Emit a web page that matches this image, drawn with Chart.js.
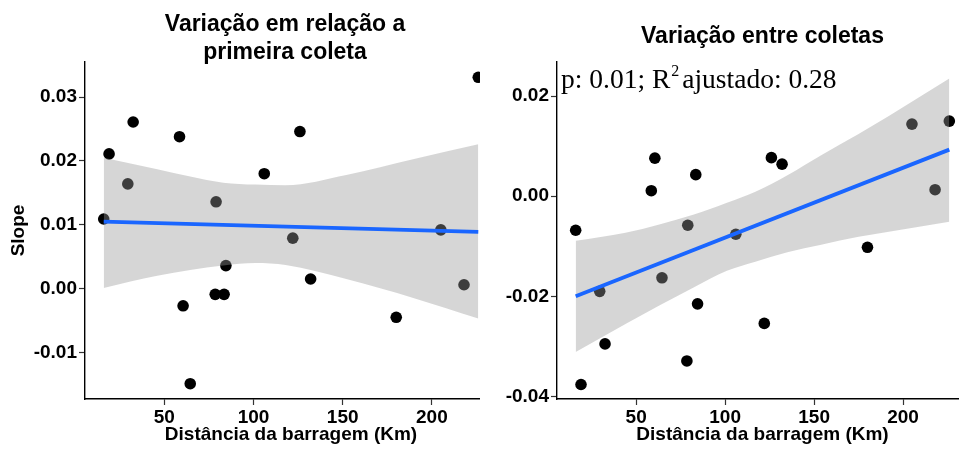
<!DOCTYPE html>
<html>
<head>
<meta charset="utf-8">
<script src="https://cdn.jsdelivr.net/npm/chart.js@4.4.1/dist/chart.umd.min.js"></script>
<style>
  html, body { margin: 0; padding: 0; background: #fff; }
  body { width: 959px; height: 449px; position: relative; overflow: hidden; }
  .panel { position: absolute; top: 0; height: 449px; overflow: hidden; }
  #leftPanel { left: 0; width: 480px; }
  #rightPanel { left: 480px; width: 479px; }
  canvas { display: block; }
</style>
</head>
<body>
<div class="panel" id="leftPanel"><canvas id="leftChart" width="497" height="449"></canvas></div>
<div class="panel" id="rightPanel"><canvas id="rightChart" width="488" height="449"></canvas></div>
<script>
// Distance of each sampling site from the dam (km)
const distance = [16, 19, 29.5, 32.5, 58.5, 60.5, 64.5, 78.5, 79, 83.5, 84.5, 106, 122, 126, 132, 180, 205, 218, 226];

// Slope relative to the first collection
const slopeFirst = [0.0109, 0.0211, 0.0164, 0.0261, 0.0238, -0.0027, -0.0149, -0.0009, 0.0136, -0.0009, 0.0036, 0.0180, 0.0079, 0.0246, 0.0015, -0.0045, 0.0092, 0.0006, 0.0331];

// Slope between consecutive collections
const slopeBetween = [-0.0068, -0.0376, -0.0190, -0.0295, 0.0011, 0.0076, -0.0163, -0.0329, -0.0058, 0.0043, -0.0215, -0.0076, -0.0254, 0.0077, 0.0064, -0.0102, 0.0144, 0.0013, 0.0150];

// Linear fit (endpoints) and 95% confidence band
const fitX = [16, 226];
const fitFirst = [0.0105, 0.0089];
const fitBetween = [-0.0200, 0.0093];

const bandX = [16, 46, 83, 101, 118, 152, 190, 226];
const bandFirstUpper = [0.0205, 0.0187, 0.0166, 0.0163, 0.0162, 0.0178, 0.0203, 0.0226];
const bandFirstLower = [0.0001, 0.0020, 0.0036, 0.0040, 0.0037, 0.0015, -0.0015, -0.0047];

const bandX2 = [16, 44, 82, 101, 117, 135, 154, 175, 192, 226];
const bandBetweenUpper = [-0.0089, -0.0073, -0.0037, -0.0013, 0.0009, 0.0042, 0.0082, 0.0124, 0.0160, 0.0235];
const bandBetweenLower = [-0.0311, -0.0255, -0.0183, -0.0149, -0.0131, -0.0112, -0.0097, -0.0081, -0.0071, -0.0051];

// Tick values
const xTicks = [50, 100, 150, 200];
const yTicksFirst = [-0.01, 0.00, 0.01, 0.02, 0.03];
const yTicksBetween = [-0.04, -0.02, 0.00, 0.02];

// Axis ranges
const xRange = [5.5, 236.5];
const yRangeFirst = [-0.0173, 0.0355];
const yRangeBetween = [-0.0405, 0.0268];

// Annotation of the second panel
const statsText = { before: 'p: 0.01; R', sup: '2', after: 'ajustado: 0.28', y: 0.0216 };

const SANS = '"Liberation Sans", Arial, sans-serif';
const SERIF = '"Liberation Serif", "Times New Roman", serif';
const BAND = 'rgba(153,153,153,0.4)';
const FIT = '#1a66ff';

const zip = (xs, ys) => xs.map((x, i) => ({ x: x, y: ys[i] }));

const panelText = {
  id: 'panelText',
  afterDraw(chart, args, opts) {
    const ctx = chart.ctx;
    const area = chart.chartArea;
    ctx.save();
    ctx.fillStyle = '#000';
    ctx.textAlign = 'center';
    ctx.textBaseline = 'alphabetic';
    ctx.font = 'bold 23px ' + SANS;
    const cx = (area.left + area.right) / 2 + (opts.shift || 0);
    (opts.lines || []).forEach((t, i) => ctx.fillText(t, cx, opts.baselines[i]));
    if (opts.stats) {
      const s = opts.stats;
      const y = chart.scales.y.getPixelForValue(s.y);
      let x = area.left + 4;
      ctx.textAlign = 'left';
      ctx.font = '27.5px ' + SERIF;
      ctx.fillText(s.before, x, y);
      x += ctx.measureText(s.before).width + 1;
      ctx.font = '16px ' + SERIF;
      ctx.fillText(s.sup, x, y - 12);
      x += ctx.measureText(s.sup).width + 3;
      ctx.font = '27.5px ' + SERIF;
      ctx.fillText(s.after, x, y);
    }
    ctx.restore();
  }
};

function makeChart(canvasId, cfg) {
  const tickFont = { family: SANS, size: 19, weight: 'bold' };
  return new Chart(document.getElementById(canvasId), {
    type: 'scatter',
    data: {
      datasets: [
        {
          type: 'line', data: zip(fitX, cfg.fit), borderColor: FIT, borderWidth: 3.8,
          pointRadius: 0, fill: false, order: 0
        },
        {
          type: 'line', data: zip(cfg.bandX, cfg.upper), borderWidth: 0, borderColor: 'rgba(0,0,0,0)',
          pointRadius: 0, fill: '+1', backgroundColor: BAND, cubicInterpolationMode: 'monotone', order: 1
        },
        {
          type: 'line', data: zip(cfg.bandX, cfg.lower), borderWidth: 0, borderColor: 'rgba(0,0,0,0)',
          pointRadius: 0, fill: false, cubicInterpolationMode: 'monotone', order: 2
        },
        {
          data: zip(distance, cfg.points), backgroundColor: '#000', borderWidth: 0,
          pointRadius: 5.8, order: 3
        }
      ]
    },
    options: {
      responsive: false,
      animation: false,
      devicePixelRatio: 1,
      layout: { autoPadding: false, padding: { top: 62, left: 0, right: 0, bottom: 0 } },
      plugins: {
        legend: { display: false },
        tooltip: { enabled: false },
        panelText: cfg.text
      },
      scales: {
        x: {
          type: 'linear', min: xRange[0], max: xRange[1],
          afterBuildTicks: s => { s.ticks = xTicks.map(v => ({ value: v })); },
          afterFit: s => { s.height = 50; },
          ticks: { font: tickFont, color: '#000', padding: 1, callback: v => String(v) },
          grid: { drawOnChartArea: false, drawTicks: true, tickLength: 6, color: '#333', tickWidth: 1.2 },
          border: { display: true, color: '#000', width: 1.4 },
          title: { display: true, text: 'Distância da barragem (Km)', font: tickFont, color: '#000', padding: { top: 0, bottom: 3 } }
        },
        y: {
          type: 'linear', min: cfg.yRange[0], max: cfg.yRange[1],
          afterBuildTicks: s => { s.ticks = cfg.yTicks.map(v => ({ value: v })); },
          afterFit: s => { s.width = cfg.yWidth; },
          ticks: { font: tickFont, color: '#000', padding: 2, callback: v => v.toFixed(2) },
          grid: { drawOnChartArea: false, drawTicks: true, tickLength: 6, color: '#333', tickWidth: 1.2 },
          border: { display: true, color: '#000', width: 1.4 },
          title: cfg.yTitle
            ? { display: true, text: cfg.yTitle, font: tickFont, color: '#000', padding: { top: 7, bottom: 0 } }
            : { display: false }
        }
      }
    },
    plugins: [panelText]
  });
}

makeChart('leftChart', {
  points: slopeFirst, fit: fitFirst, bandX: bandX, upper: bandFirstUpper, lower: bandFirstLower,
  yRange: yRangeFirst, yTicks: yTicksFirst, yWidth: 85, yTitle: 'Slope',
  text: { lines: ['Variação em relação a', 'primeira coleta'], baselines: [31, 59], shift: -6 }
});

makeChart('rightChart', {
  points: slopeBetween, fit: fitBetween, bandX: bandX2, upper: bandBetweenUpper, lower: bandBetweenLower,
  yRange: yRangeBetween, yTicks: yTicksBetween, yWidth: 77, yTitle: null,
  text: { lines: ['Variação entre coletas'], baselines: [43], shift: 0, stats: statsText }
});
</script>
</body>
</html>
